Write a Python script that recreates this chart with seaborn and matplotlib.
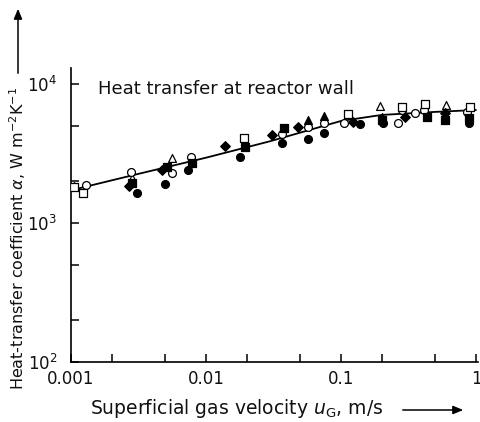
import numpy as np
import pandas as pd
import matplotlib
matplotlib.use("Agg")
import matplotlib.pyplot as plt
import seaborn as sns

# Fitted correlation curve: superficial gas velocity (m/s) vs. heat-transfer coefficient (W m^-2 K^-1)
curve_u = [0.001, 0.003, 0.01, 0.03, 0.1, 0.2, 0.5, 1.0]
curve_alpha = [1720, 2230, 2950, 3880, 5420, 5990, 6300, 6500]

# Measured points, one list pair per symbol
open_tri_u = [0.00105, 0.00285, 0.0056, 0.195, 0.60]
open_tri_a = [1850, 2110, 2940, 6950, 7060]

open_circ_u = [0.00129, 0.00278, 0.0056, 0.00774, 0.0366, 0.0565, 0.0742,
               0.105, 0.264, 0.283, 0.353, 0.412, 0.857]
open_circ_a = [1880, 2330, 2290, 2990, 4370, 4910, 5240,
               5240, 5240, 6510, 6190, 6510, 6290]

open_sq_u = [0.00105, 0.00123, 0.0190, 0.113, 0.283, 0.42, 0.903]
open_sq_a = [1820, 1640, 4090, 6090, 6840, 7180, 6840]

full_circ_u = [0.00307, 0.00497, 0.0073, 0.0179, 0.0366, 0.0565, 0.0742,
               0.138, 0.205, 0.88]
full_circ_a = [1640, 1910, 2410, 2990, 3760, 4020, 4440,
               5160, 5240, 5240]

full_diam_u = [0.00269, 0.00472, 0.0138, 0.0308, 0.048, 0.123, 0.298, 0.59]
full_diam_a = [1850, 2410, 3580, 4300, 4910, 5340, 5800, 6190]

full_sq_u = [0.00285, 0.00514, 0.00787, 0.0195, 0.0378, 0.201, 0.434, 0.59, 0.88]
full_sq_a = [1940, 2530, 2710, 3530, 4830, 5510, 5800, 5510, 5700]

full_tri_u = [0.0565, 0.0742, 0.20]
full_tri_a = [5510, 5890, 5800]

x_ticks = [0.001, 0.01, 0.1, 1]
x_tick_labels = ["0.001", "0.01", "0.1", "1"]
y_ticks = [1e2, 1e3, 1e4]
y_tick_labels = ["$10^2$", "$10^3$", "$10^4$"]

sns.set_theme(style="ticks")
plt.rcParams["font.family"] = ["DejaVu Sans"]
plt.rcParams["mathtext.fontset"] = "dejavusans"

W, H = 481, 422
fig = plt.figure(figsize=(W / 100, H / 100), dpi=100)
ax = fig.add_axes([71 / W, (H - 362) / H, (478 - 71) / W, (362 - 68) / H])

ax.set_xscale("log")
ax.set_yscale("log")

curve = pd.DataFrame({"u": curve_u, "alpha": curve_alpha})
sns.lineplot(data=curve, x="u", y="alpha", ax=ax, color="black", lw=1.3,
             zorder=2, sort=False)

groups = [
    (open_tri_u, open_tri_a, "^", "white"),
    (open_circ_u, open_circ_a, "o", "white"),
    (open_sq_u, open_sq_a, "s", "white"),
    (full_circ_u, full_circ_a, "o", "black"),
    (full_diam_u, full_diam_a, "D", "black"),
    (full_sq_u, full_sq_a, "s", "black"),
    (full_tri_u, full_tri_a, "^", "black"),
]
for u, a, m, fc in groups:
    df = pd.DataFrame({"u": u, "alpha": a})
    size = 24 if m == "D" else 32
    sns.scatterplot(data=df, x="u", y="alpha", ax=ax, marker=m, s=size,
                    color=fc, edgecolor="black", linewidth=0.9, zorder=3,
                    legend=False)

ax.set_xlim(0.001, 10 ** ((478 - 71) / 135 - 3))
ax.set_ylim(100, 10 ** (2 + 294 / 139))

ax.set_xticks(x_ticks)
ax.set_xticklabels(x_tick_labels)
ax.set_yticks(y_ticks)
ax.set_yticklabels(y_tick_labels)
ax.xaxis.set_minor_locator(matplotlib.ticker.LogLocator(base=10, subs=(2, 5)))
ax.yaxis.set_minor_locator(matplotlib.ticker.LogLocator(base=10, subs=(2, 5)))
ax.xaxis.set_minor_formatter(matplotlib.ticker.NullFormatter())
ax.yaxis.set_minor_formatter(matplotlib.ticker.NullFormatter())
ax.tick_params(which="both", direction="in", length=6, width=1.1,
               color="black", labelsize=12, labelcolor="#111111")
ax.tick_params(axis="x", pad=6)
ax.tick_params(axis="y", pad=10)

sns.despine(ax=ax)
for side in ("left", "bottom"):
    ax.spines[side].set_linewidth(1.2)
    ax.spines[side].set_color("black")

ax.set_xlabel("")
ax.set_ylabel("")

ax.text((98 - 71) / (478 - 71), 0.93, "Heat transfer at reactor wall",
        transform=ax.transAxes, fontsize=13, color="#111111",
        ha="left", va="center")

# Axis titles with pointing arrows
fig.text(90 / W, 1 - 408 / H,
         "Superficial gas velocity $\\mathit{u}_\\mathrm{G}$, m/s",
         fontsize=13.5, color="#111111", ha="left", va="center")
fig.add_artist(matplotlib.patches.FancyArrowPatch(
    (400 / W, 1 - 410 / H), (466 / W, 1 - 410 / H),
    transform=fig.transFigure, arrowstyle="-|>,head_length=6,head_width=2.5",
    color="black", lw=1.1, mutation_scale=1))

fig.text(18 / W, 1 - 390 / H,
         "Heat-transfer coefficient $\\alpha$, W m$^{-2}$K$^{-1}$",
         fontsize=11.5, color="#111111", rotation=90, ha="center", va="bottom")
fig.add_artist(matplotlib.patches.FancyArrowPatch(
    (18 / W, 1 - 76 / H), (18 / W, 1 - 6 / H),
    transform=fig.transFigure, arrowstyle="-|>,head_length=6,head_width=2.5",
    color="black", lw=1.1, mutation_scale=1))

fig.savefig("out.png", dpi=100)
